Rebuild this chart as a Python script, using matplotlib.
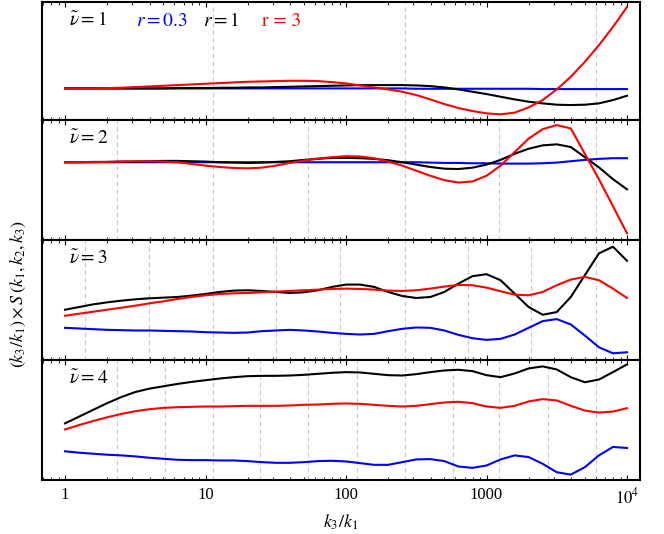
import numpy as np
import matplotlib
matplotlib.use("Agg")
from matplotlib import pyplot as plt

plt.rcParams["mathtext.fontset"] = "stix"
plt.rcParams["font.family"] = "Liberation Serif"

# log10(k3/k1) sample grid, 0.1 steps
logk = [0.1 * i for i in range(41)]

# values (arbitrary units, per panel)
p1_blue = [95, 95, 95, 95, 95, 95, 95, 95, 95, 95, 95, 95, 95, 95, 95, 95, 95, 95, 95, 95, 95,
           95, 95, 95, 95, 94, 94, 94, 94, 94, 94, 94, 94, 94, 93, 93, 93, 93, 93, 93, 93]
p1_black = [95, 95, 95, 95, 95, 95, 95, 95, 96, 96, 96, 97, 97, 98, 98, 99, 100, 101, 102, 103, 104,
            105, 105, 105, 105, 104, 102, 98, 92, 85, 78, 70, 62, 55, 50, 46, 45, 46, 50, 60, 73]
p1_red = [95, 95, 95, 96, 97, 99, 101, 103, 105, 107, 109, 111, 113, 115, 116, 117, 118, 118, 117, 114, 110,
          104, 98, 92, 85, 75, 62, 48, 36, 27, 20, 17, 22, 38, 60, 92, 130, 175, 225, 280, 340]

p2_blue = [230, 230, 230, 230, 230, 230, 230, 230, 230, 230, 230, 230, 230, 230, 230, 230, 230, 230, 230, 230, 230,
           230, 230, 230, 230, 230, 229, 228, 228, 227, 227, 226, 226, 226, 227, 229, 233, 237, 240, 242, 242]
p2_black = [230, 230, 231, 231, 232, 232, 233, 234, 234, 233, 232, 230, 229, 228, 229, 231, 233, 237, 240, 243, 243,
            242, 240, 236, 230, 223, 216, 211, 210, 214, 223, 237, 255, 270, 280, 283, 275, 245, 215, 180, 150]
p2_red = [230, 230, 230, 231, 232, 233, 233, 232, 230, 225, 220, 216, 213, 212, 214, 220, 228, 235, 241, 245, 248,
          247, 242, 232, 220, 205, 190, 177, 170, 173, 190, 220, 260, 300, 328, 340, 330, 255, 180, 100, 20]

p3_black = [150, 158, 166, 172, 177, 181, 184, 186, 188, 192, 197, 203, 207, 208, 206, 203, 200, 202, 208, 218, 225,
            225, 218, 203, 191, 185, 188, 203, 228, 250, 256, 238, 198, 158, 135, 143, 188, 253, 318, 338, 296]
p3_red = [132, 138, 144, 150, 156, 162, 169, 175, 182, 188, 193, 197, 199, 200, 202, 204, 206, 208, 210, 212, 213,
          212, 210, 207, 206, 208, 213, 219, 224, 223, 216, 205, 195, 193, 203, 223, 240, 248, 238, 213, 185]
p3_blue = [96, 94, 92, 90, 89, 88, 88, 87, 86, 85, 83, 82, 81, 82, 86, 88, 90, 88, 85, 81, 78,
           76, 78, 86, 93, 97, 96, 88, 75, 65, 60, 63, 76, 96, 116, 122, 106, 73, 38, 20, 23]

p4_black = [168, 188, 208, 228, 246, 261, 271, 278, 285, 291, 296, 301, 305, 308, 309, 309, 310, 312, 315, 318, 320,
            319, 315, 311, 310, 314, 320, 325, 327, 323, 311, 305, 316, 331, 337, 328, 305, 290, 298, 320, 343]
p4_red = [150, 163, 175, 186, 196, 204, 210, 214, 216, 217, 218, 218, 219, 220, 220, 220, 221, 223, 224, 226, 227,
          226, 223, 220, 218, 220, 225, 230, 232, 228, 218, 214, 220, 233, 240, 236, 220, 206, 200, 203, 213]
p4_blue = [85, 81, 78, 75, 73, 70, 66, 63, 60, 59, 59, 58, 58, 56, 53, 51, 51, 53, 56, 57, 55,
           50, 45, 45, 53, 61, 62, 56, 40, 36, 43, 61, 73, 68, 48, 23, 16, 38, 73, 98, 95]

panels = [
    (r"$\tilde{\nu} = 1$", p1_blue, p1_black, p1_red),
    (r"$\tilde{\nu} = 2$", p2_blue, p2_black, p2_red),
    (r"$\tilde{\nu} = 3$", p3_blue, p3_black, p3_red),
    (r"$\tilde{\nu} = 4$", p4_blue, p4_black, p4_red),
]
ymax = [355, 355, 358, 356]

# dashed guide lines (log10 positions)
guides = [
    [1.05, 2.42, 3.78],
    [0.367, 1.05, 1.73, 2.42, 3.09, 3.78],
    [0.144, 0.597, 1.05, 1.50, 1.96, 2.42, 2.87, 3.32, 3.78],
    [0.367, 0.708, 1.05, 1.39, 1.73, 2.08, 2.42, 2.76, 3.09, 3.44, 3.78],
]

x = 10 ** np.array(logk)

fig = plt.figure(figsize=(6.64, 5.34), dpi=100)
left, right = 42 / 664, 640 / 664
tops = [2, 120, 240, 360, 480]
axes = []
for i, (lab, b, k, r) in enumerate(panels):
    y0 = 1 - tops[i + 1] / 534
    h = (tops[i + 1] - tops[i]) / 534
    ax = fig.add_axes([left, y0, right - left, h])
    for g in guides[i]:
        ax.axvline(10 ** g, color="#c8c8c8", ls=(0, (4, 3)), lw=0.8, zorder=0)
    ax.plot(x, b, color="blue", lw=1.5)
    ax.plot(x, k, color="black", lw=1.5)
    ax.plot(x, r, color="red", lw=1.5)
    ax.set_xscale("log")
    ax.set_xlim(10 ** -0.164, 10 ** 4.0925)
    ax.set_ylim(0, ymax[i])
    ax.set_yticks([])
    ax.tick_params(axis="x", which="both", direction="in", top=True, bottom=True, labelbottom=False)
    for s in ax.spines.values():
        s.set_linewidth(1.5)
    ax.text(0.045, 0.80, lab, transform=ax.transAxes, fontsize=14)
    axes.append(ax)

axes[0].text(0.158, 0.80, r"$r = 0.3$", color="blue", transform=axes[0].transAxes, fontsize=14)
axes[0].text(0.27, 0.80, r"$r = 1$", color="black", transform=axes[0].transAxes, fontsize=14)
axes[0].text(0.368, 0.80, r"r = 3", color="red", transform=axes[0].transAxes, fontsize=14, family="STIXGeneral")

ax = axes[-1]
ax.set_xticks([1, 10, 100, 1000, 10000])
ax.set_xticklabels(["1", "10", "100", "1000", r"$10^4$"], fontsize=12)
ax.tick_params(axis="x", labelbottom=True, pad=5)
ax.set_xlabel(r"$k_3/k_1$", fontsize=13, labelpad=4)
fig.text(0.027, 0.5 - 0.05, r"$(k_3/k_1) \times S\,(k_1, k_2, k_3)$", rotation=90,
         va="center", ha="center", fontsize=13)

fig.savefig("out.png", dpi=100)
